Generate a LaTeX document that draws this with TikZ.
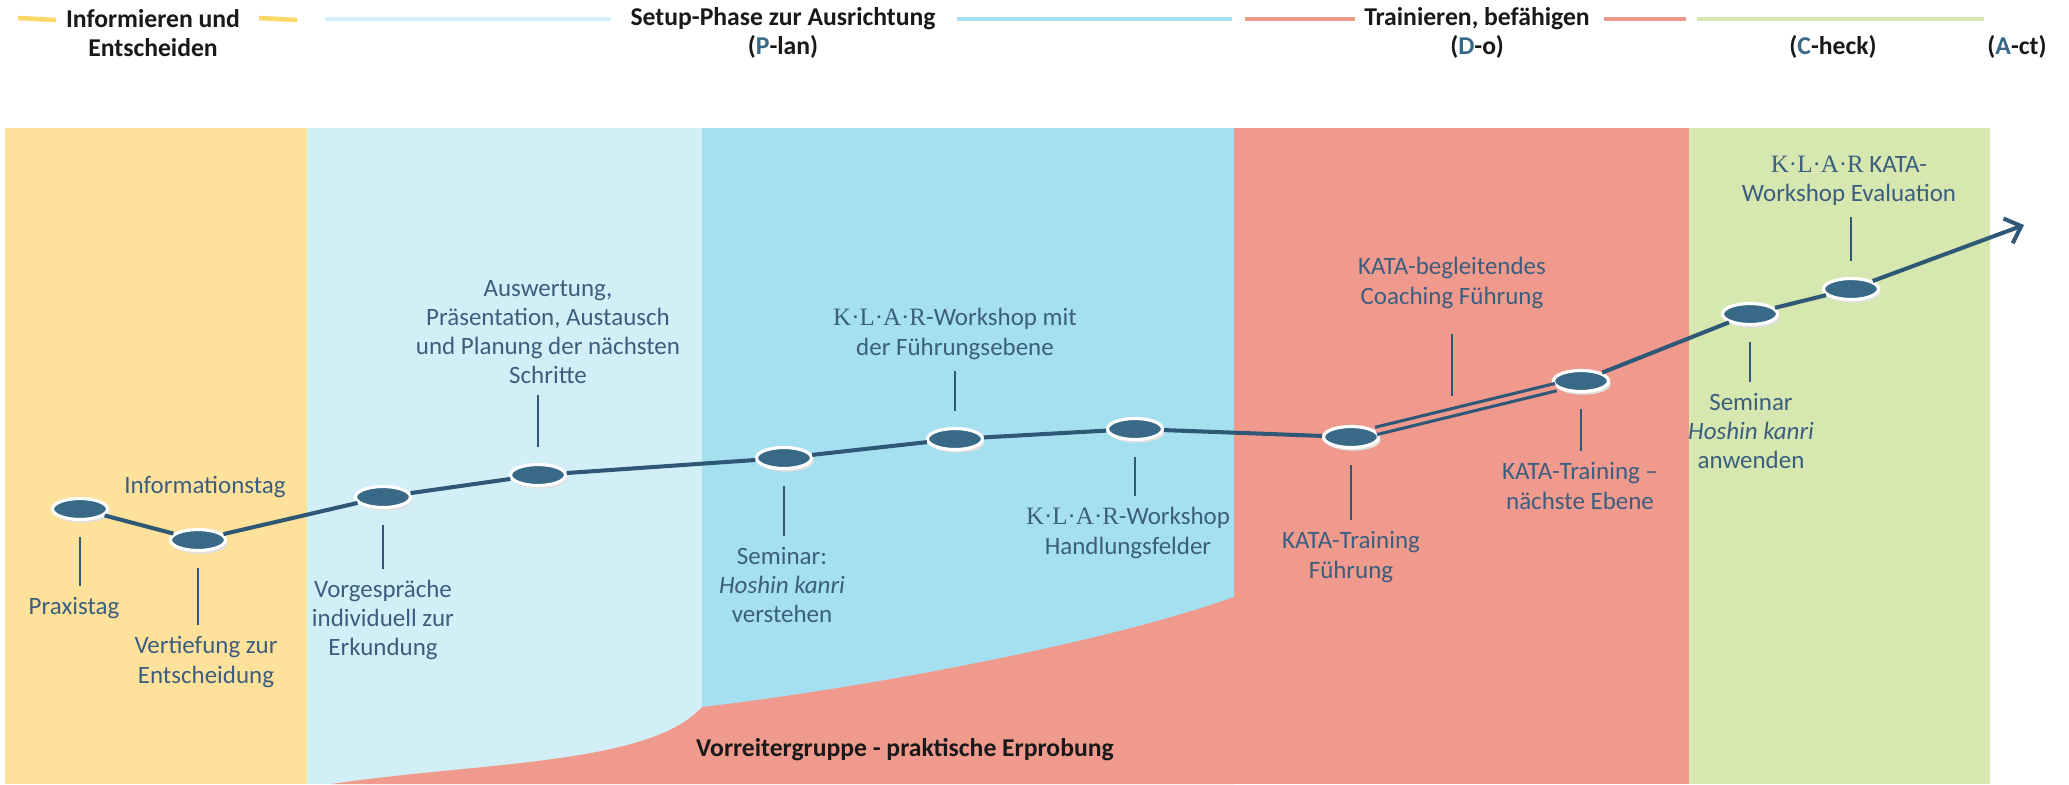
\documentclass[tikz,border=0pt]{standalone}
\usepackage{fontspec}
\setmainfont{Carlito}
\newfontfamily\klarfont{Liberation Serif}
\usetikzlibrary{shapes.geometric,shadows,arrows.meta}
\definecolor{gelb}{HTML}{FEE29C}
\definecolor{gelblinie}{HTML}{FDD867}
\definecolor{hellblau}{HTML}{D2EFF7}
\definecolor{mittelblau}{HTML}{A5E0F0}
\definecolor{rosa}{HTML}{F09A8D}
\definecolor{gruen}{HTML}{D6E8B0}
\definecolor{textblau}{HTML}{3C5E7E}
\definecolor{punktblau}{HTML}{386987}
\definecolor{linienblau}{HTML}{2F5877}
\newcommand{\klar}{{\klarfont K·L·A·R}}

\begin{document}
\begin{tikzpicture}[x=0.01cm,y=-0.01cm,
  punkt/.style={ellipse,minimum width=0.55cm,minimum height=0.21cm,inner sep=0pt,
    fill=punktblau,draw=white,line width=0.9pt,
    drop shadow={shadow xshift=0.6pt,shadow yshift=-0.9pt,fill=black!12,opacity=1}},
  lab/.style={align=center,inner sep=0pt,text=textblau,font=\fontsize{7.1}{8.3}\selectfont},
  kopf/.style={align=center,inner sep=0pt,text=black!90,font=\fontsize{7.3}{8.1}\selectfont\bfseries},
  weg/.style={draw=linienblau,line width=1.15pt},
  strich/.style={draw=linienblau,line width=0.6pt,shorten <=4.5pt,shorten >=3pt},
  kopflinie/.style={line width=1.3pt}]
\useasboundingbox (0,0) rectangle (2069,784);
\fill[white] (0,0) rectangle (2069,784);
\fill[gelb] (5,128) rectangle (307,784);
\fill[hellblau] (307,128) rectangle (702,784);
\fill[mittelblau] (702,128) rectangle (1234,784);
\fill[rosa] (1234,128) rectangle (1689,784);
\fill[gruen] (1689,128) rectangle (1990,784);
\fill[rosa] (331,784) .. controls (480,762) and (650,765) .. (702,707)
  .. controls (850,690) and (1100,645) .. (1234,597) -- (1234,784) -- cycle;

\draw[kopflinie,gelblinie] (18,18) -- (56,20);
\draw[kopflinie,gelblinie] (259,18) -- (297,20);
\draw[kopflinie,hellblau] (325,19) -- (611,19);
\draw[kopflinie,mittelblau] (957,19) -- (1232,19);
\draw[kopflinie,rosa] (1245,19) -- (1355,19);
\draw[kopflinie,rosa] (1604,19) -- (1686,19);
\draw[kopflinie,gruen] (1697,19) -- (1984,19);
\node[kopf] (kInfo) at (153,33) {Informieren und\\Entscheiden};
\node[kopf] (kPlan) at (783,33) {Setup-Phase zur Ausrichtung\\(\textcolor{punktblau}{P}-lan)};
\node[kopf] (kDo) at (1477,33) {Trainieren, befähigen\\(\textcolor{punktblau}{D}-o)};
\node[kopf] (kCheck) at (1833,47) {(\textcolor{punktblau}{C}-heck)};
\node[kopf] (kAct) at (2017,47) {(\textcolor{punktblau}{A}-ct)};
\node[kopf] (vorreiter) at (905,750) {Vorreitergruppe - praktische Erprobung};

\node[punkt] (m1) at (80,509) {};
\node[punkt] (m2) at (198,540) {};
\node[punkt] (m3) at (383,497) {};
\node[punkt] (m4) at (538,475) {};
\node[punkt] (m5) at (784,458) {};
\node[punkt] (m6) at (955,439) {};
\node[punkt] (m7) at (1135,429) {};
\node[punkt] (m8) at (1351,437) {};
\node[punkt] (m9) at (1581,381) {};
\node[punkt] (m10) at (1750,314) {};
\node[punkt] (m11) at (1851,289) {};
\coordinate (spitze) at (2024,225);
\coordinate (c89) at (1452,412);
\draw[weg] (m1) -- (m2) -- (m3) -- (m4) -- (m5) -- (m6) -- (m7) -- (m8);
\draw[weg,line width=0.9pt,double=rosa,double distance=1.2pt] (m8) -- (m9);
\draw[weg] (m9) -- (m10) -- (m11);
\draw[weg,-{Straight Barb[length=4pt,width=7.5pt]}] (m11) -- (spitze);

\node[lab] (l1) at (74,608) {Praxistag};
\node[lab] (l2) at (205,487) {Informationstag};
\node[lab] (l3) at (206,662) {Vertiefung zur\\Entscheidung};
\node[lab] (l4) at (383,620) {Vorgespräche\\individuell zur\\Erkundung};
\node[lab] (l5) at (548,332) {Auswertung,\\Präsentation, Austausch\\und Planung der nächsten\\Schritte};
\node[lab] (l6) at (782,585) {Seminar:\\\textit{Hoshin kanri}\\verstehen};
\node[lab] (l7) at (955,334) {\klar-Workshop mit\\der Führungsebene};
\node[lab] (l8) at (1128,533) {\klar-Workshop\\Handlungsfelder};
\node[lab] (l9) at (1351,557) {KATA-Training\\Führung};
\node[lab] (l10) at (1452,283) {KATA-begleitendes\\Coaching Führung};
\node[lab] (l11) at (1580,486) {KATA-Training –\\nächste Ebene};
\node[lab] (l12) at (1751,431) {Seminar\\\textit{Hoshin kanri}\\anwenden};
\node[lab] (l13) at (1849,181) {\klar{} KATA-\\Workshop Evaluation};

\draw[strich] (m1) -- (m1 |- l1.north);
\draw[strich] (m2) -- (m2 |- l3.north);
\draw[strich] (m3) -- (m3 |- l4.north);
\draw[strich] (m4) -- (m4 |- l5.south);
\draw[strich] (m5) -- (m5 |- l6.north);
\draw[strich] (m6) -- (m6 |- l7.south);
\draw[strich] (m7) -- (m7 |- l8.north);
\draw[strich] (m8) -- (m8 |- l9.north);
\draw[strich,shorten >=7pt] (c89) -- (l10);
\draw[strich] (m9) -- (m9 |- l11.north);
\draw[strich] (m10) -- (m10 |- l12.north);
\draw[strich] (m11) -- (m11 |- l13.south);
\end{tikzpicture}
\end{document}
